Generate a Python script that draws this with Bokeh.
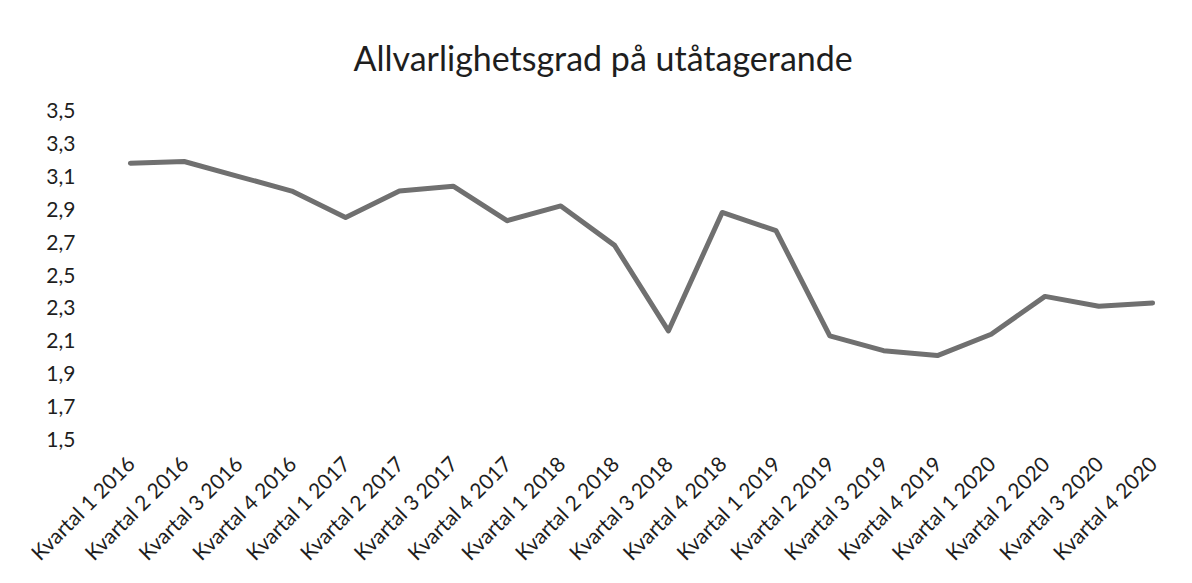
from bokeh.plotting import figure
from bokeh.models import Range1d, FixedTicker, CustomJSTickFormatter
from bokeh.embed import file_html
from bokeh.resources import INLINE
from math import pi

categories = [
    "Kvartal 1 2016", "Kvartal 2 2016", "Kvartal 3 2016", "Kvartal 4 2016",
    "Kvartal 1 2017", "Kvartal 2 2017", "Kvartal 3 2017", "Kvartal 4 2017",
    "Kvartal 1 2018", "Kvartal 2 2018", "Kvartal 3 2018", "Kvartal 4 2018",
    "Kvartal 1 2019", "Kvartal 2 2019", "Kvartal 3 2019", "Kvartal 4 2019",
    "Kvartal 1 2020", "Kvartal 2 2020", "Kvartal 3 2020", "Kvartal 4 2020",
]
values = [3.18, 3.19, 3.10, 3.01, 2.85, 3.01, 3.04, 2.83, 2.92, 2.68,
          2.16, 2.88, 2.77, 2.13, 2.04, 2.01, 2.14, 2.37, 2.31, 2.33]
y_ticks = [1.5, 1.7, 1.9, 2.1, 2.3, 2.5, 2.7, 2.9, 3.1, 3.3, 3.5]
title_text = "Allvarlighetsgrad på utåtagerande"

FONT = "Lato"
TXT = "#1e1e1e"

p = figure(
    x_range=categories,
    y_range=Range1d(1.5, 3.5),
    width=1190, height=580,
    output_backend="svg", toolbar_location=None,
    min_border_left=103, min_border_right=11,
    min_border_top=110, min_border_bottom=141,
)
p.title.text = title_text
p.title.align = "left"
p.title.offset = 250
p.title.text_font = FONT
p.title.text_font_size = "34px"
p.title.text_font_style = "normal"
p.title.text_color = TXT
p.title.standoff = 66

p.line(x=categories, y=values, line_color="#707070", line_width=5,
       line_join="round", line_cap="round")

p.outline_line_color = None
p.grid.grid_line_color = None
p.x_range.range_padding = 0

p.yaxis.ticker = FixedTicker(ticks=y_ticks)
p.yaxis.formatter = CustomJSTickFormatter(code="return tick.toFixed(1).replace('.', ',');")
for ax in (p.xaxis, p.yaxis):
    ax.axis_line_color = None
    ax.major_tick_line_color = None
    ax.minor_tick_line_color = None
    ax.major_label_text_font = FONT
    ax.major_label_text_color = TXT
p.yaxis.major_label_text_font_size = "21px"
p.xaxis.major_label_text_font_size = "21px"
p.yaxis.major_label_standoff = 22
p.xaxis.major_label_orientation = pi / 4
p.xaxis.major_label_standoff = 14
p.xaxis.group_text_font_size = "0px"

open("out.html", "w").write(file_html(p, INLINE))
